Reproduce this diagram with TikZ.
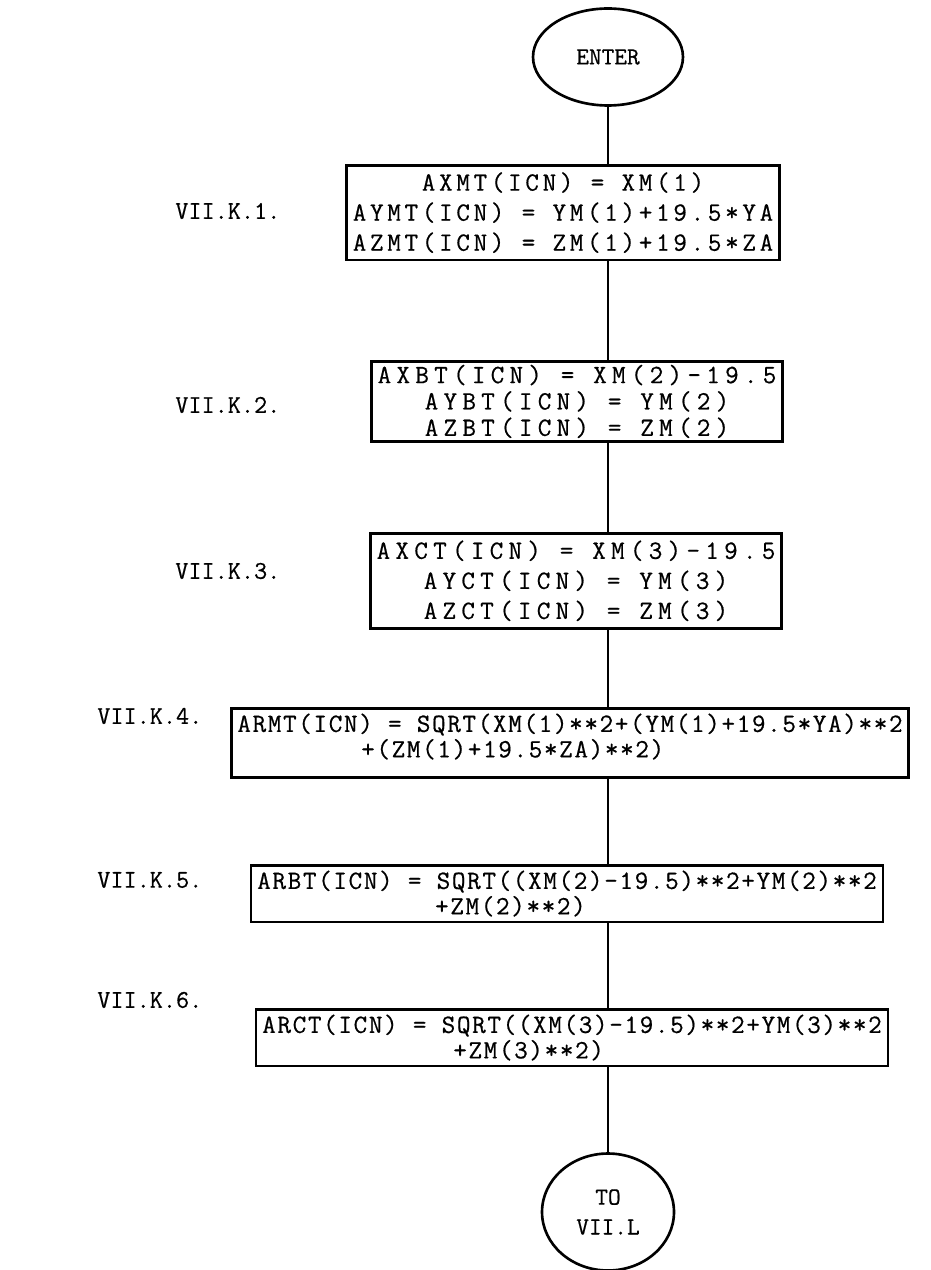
\documentclass[tikz,border=0pt]{standalone}
\usepackage{fontspec}
\usetikzlibrary{shapes.geometric}
\newfontfamily\typer[LetterSpace=6.3,FakeBold=0.6]{Latin Modern Mono}
\newfontfamily\typewide[LetterSpace=14,FakeBold=0.6]{Latin Modern Mono}
\newfontfamily\typewider[LetterSpace=20,FakeBold=0.6]{Latin Modern Mono}
\newfontfamily\typetag[FakeBold=0.6]{Latin Modern Mono}
\tikzset{
  flowline/.style={line width=1.5pt},
  stepbox/.style={draw,line width=1.5pt,anchor=north,font=\typewide\fontsize{15}{17.1}\selectfont,align=center,inner xsep=3.5pt,inner ysep=4pt},
  longbox/.style={stepbox,align=left,font=\typer\fontsize{15}{14.5}\selectfont,inner ysep=3pt},
  term/.style={ellipse,draw,line width=1.5pt,font=\typetag\fontsize{14}{17}\selectfont,align=center,inner sep=0pt},
  tag/.style={anchor=west,font=\typetag\fontsize{14.5}{16}\selectfont,inner sep=0pt}
}

\begin{document}
\begin{tikzpicture}[x=0.02cm,y=-0.02cm]
  \useasboundingbox (0,0) rectangle (930,1270);
  % terminals
  \node[term,minimum width=3cm,minimum height=1.94cm] (enter) at (608,57) {ENTER};
  \node[term,minimum width=2.64cm,minimum height=2.34cm] (exit) at (608,1212) {TO\\VII.L};
  % assignment steps
  \node[stepbox,minimum height=1.88cm] (k1) at (563,164) {AXMT(ICN) = XM(1)\\AYMT(ICN) = YM(1)+19.5*YA\\AZMT(ICN) = ZM(1)+19.5*ZA};
  \node[stepbox,inner ysep=2pt,font=\typewider\fontsize{15}{15}\selectfont] (k2) at (577,360) {AXBT(ICN) = XM(2)-19.5\\AYBT(ICN) = YM(2)\\AZBT(ICN) = ZM(2)};
  \node[stepbox,font=\typewider\fontsize{15}{17.1}\selectfont,minimum height=1.9cm] (k3) at (576,532) {AXCT(ICN) = XM(3)-19.5\\AYCT(ICN) = YM(3)\\AZCT(ICN) = ZM(3)};
  \node[longbox,text depth=8.5pt] (k4) at (570,707) {ARMT(ICN) = SQRT(XM(1)**2+(YM(1)+19.5*YA)**2\\\hspace*{4.7em}+(ZM(1)+19.5*ZA)**2)};
  \node[longbox] (k5) at (567,864) {ARBT(ICN) = SQRT((XM(2)-19.5)**2+YM(2)**2\\\hspace*{6.75em}+ZM(2)**2)};
  \node[longbox] (k6) at (572,1008) {ARCT(ICN) = SQRT((XM(3)-19.5)**2+YM(3)**2\\\hspace*{7.25em}+ZM(3)**2)};
  % step numbers
  \node[tag] (t1) at (175,211) {VII.K.1.};
  \node[tag] (t2) at (175,405) {VII.K.2.};
  \node[tag] (t3) at (175,571) {VII.K.3.};
  \node[tag] (t4) at (97,716) {VII.K.4.};
  \node[tag] (t5) at (97,880) {VII.K.5.};
  \node[tag] (t6) at (97,1000) {VII.K.6.};
  % main line
  \draw[flowline] (enter) -- (enter |- k1.north);
  \draw[flowline] (enter |- k1.south) -- (enter |- k2.north);
  \draw[flowline] (enter |- k2.south) -- (enter |- k3.north);
  \draw[flowline] (enter |- k3.south) -- (enter |- k4.north);
  \draw[flowline] (enter |- k4.south) -- (enter |- k5.north);
  \draw[flowline] (enter |- k5.south) -- (enter |- k6.north);
  \draw[flowline] (enter |- k6.south) -- (exit);
\end{tikzpicture}
\end{document}
